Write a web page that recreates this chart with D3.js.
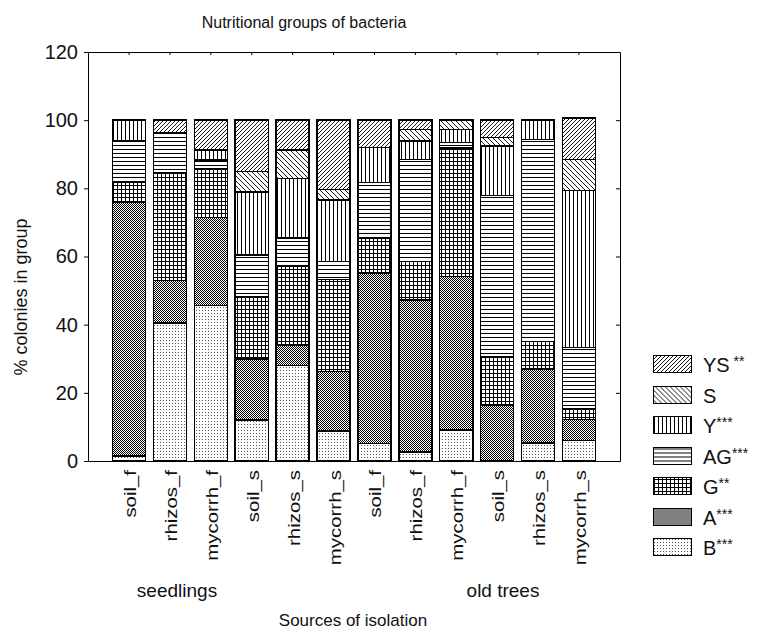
<!DOCTYPE html>
<html>
<head>
<meta charset="utf-8">
<script src="https://cdn.jsdelivr.net/npm/d3@7"></script>
<style>
  body { margin: 0; background: #fff; }
  svg { display: block; }
  text { font-family: "Liberation Sans", Arial, sans-serif; fill: #111; }
</style>
</head>
<body>
<svg id="chart" width="758" height="629"></svg>
<script>
// categories (two sites x three sources)
const categories = ['soil_f', 'rhizos_f', 'mycorrh_f', 'soil_s', 'rhizos_s', 'mycorrh_s',
                    'soil_f', 'rhizos_f', 'mycorrh_f', 'soil_s', 'rhizos_s', 'mycorrh_s'];
const groupLabels = ['seedlings', 'old trees'];

// % colonies of each nutritional group, stacked bottom -> top
const B  = [1.5, 40.5, 45.6, 12.0, 28.0,  8.8, 5.2,  2.7,  9.1,  0.0,  5.3,  6.0];
const A  = [74.3, 12.5, 25.8, 18.0,  6.0, 17.5, 50.0, 44.5, 45.1, 16.5, 21.7,  6.2];
const G  = [5.9, 31.5, 14.2, 18.3, 23.0, 26.9, 10.3, 11.4, 37.6, 14.2,  8.1,  3.0];
const AG = [12.3, 11.9,  2.7, 12.1,  8.5,  5.4, 16.2, 29.9,  1.7, 47.2, 59.3, 18.1];
const Y  = [6.0,  0.0,  3.0, 18.5, 17.4, 18.0, 10.3,  5.4,  3.7, 14.5,  5.6, 46.1];
const S  = [0.0,  0.0,  0.0,  6.0,  8.4,  3.1,  0.0,  3.3,  2.8,  2.5,  0.0,  9.1];
const YS = [0.0,  3.6,  8.7, 15.1,  8.7, 20.3,  8.0,  2.8,  0.0,  5.1,  0.0, 12.1];

const seriesKeys = ['B', 'A', 'G', 'AG', 'Y', 'S', 'YS'];
const legendNames = ['YS', 'S', 'Y', 'AG', 'G', 'A', 'B'];
const legendStars = [' **', '', '***', '***', '**', '***', '***'];
const yTicks = [0, 20, 40, 60, 80, 100, 120];

const values = { B, A, G, AG, Y, S, YS };
const rows = categories.map((c, i) => {
  const r = { idx: i };
  seriesKeys.forEach(k => { r[k] = values[k][i]; });
  return r;
});
const stacked = d3.stack().keys(seriesKeys)(rows);

const svg = d3.select('#chart');
const plot = { left: 88, right: 620, top: 52, bottom: 461 };

const x = d3.scaleBand()
  .domain(d3.range(categories.length))
  .range([plot.left, plot.right])
  .paddingInner(0.19)
  .paddingOuter(0.6);

const y = d3.scaleLinear().domain([0, 120]).range([plot.bottom, plot.top]);

// fill patterns, black on white like the printed figure
const defs = svg.append('defs');
function pat(id, w, h, draw) {
  const p = defs.append('pattern')
    .attr('id', 'p-' + id)
    .attr('patternUnits', 'userSpaceOnUse')
    .attr('width', w).attr('height', h);
  p.append('rect').attr('width', w).attr('height', h).attr('fill', '#fff');
  draw(p);
}
pat('YS', 4, 4, p => p.append('path').attr('d', 'M-1,1L1,-1M0,4L4,0M3,5L5,3')
  .attr('stroke', '#000').attr('stroke-width', 0.9));
pat('S', 5, 5, p => p.append('path').attr('d', 'M-1,4L1,6M0,0L5,5M4,-1L6,1')
  .attr('stroke', '#000').attr('stroke-width', 0.9));
pat('Y', 4, 4, p => p.append('rect').attr('x', 1).attr('width', 1).attr('height', 4).attr('fill', '#000'));
pat('AG', 4, 4, p => p.append('rect').attr('y', 1).attr('width', 4).attr('height', 1).attr('fill', '#000'));
pat('G', 4, 4, p => {
  p.append('rect').attr('y', 1).attr('width', 4).attr('height', 1).attr('fill', '#000');
  p.append('rect').attr('x', 1).attr('width', 1).attr('height', 4).attr('fill', '#000');
});
pat('A', 2, 2, p => {
  p.append('rect').attr('width', 1).attr('height', 1).attr('fill', '#000');
  p.append('rect').attr('x', 1).attr('y', 1).attr('width', 1).attr('height', 1).attr('fill', '#000');
});
pat('B', 3, 3, p => p.append('rect').attr('x', 1).attr('y', 1).attr('width', 1).attr('height', 1).attr('fill', '#555'));

// title
svg.append('text')
  .attr('x', 304).attr('y', 28)
  .attr('text-anchor', 'middle')
  .attr('font-size', 16)
  .text('Nutritional groups of bacteria');

// bars
svg.append('g')
  .selectAll('g')
  .data(stacked)
  .join('g')
  .attr('fill', d => `url(#p-${d.key})`)
  .selectAll('rect')
  .data(d => d.filter(s => s[1] - s[0] > 0))
  .join('rect')
  .attr('x', d => x(d.data.idx))
  .attr('y', d => y(d[1]))
  .attr('width', x.bandwidth())
  .attr('height', d => y(d[0]) - y(d[1]))
  .attr('stroke', '#000')
  .attr('stroke-width', 1.5)
  .attr('shape-rendering', 'crispEdges');

// axes / frame
const axStyle = g => {
  g.selectAll('path, line').attr('stroke', '#000');
  g.selectAll('text').attr('font-family', '"Liberation Sans", Arial, sans-serif').attr('fill', '#111');
};

svg.append('g')
  .attr('transform', `translate(${plot.left},0)`)
  .call(d3.axisLeft(y).tickValues(yTicks).tickSize(4).tickSizeOuter(0).tickPadding(6))
  .call(axStyle)
  .call(g => g.selectAll('text').attr('font-size', 20));

svg.append('g')
  .attr('transform', `translate(${plot.right},0)`)
  .call(d3.axisRight(y).tickValues(yTicks).tickSizeInner(-4).tickSizeOuter(0).tickFormat(''))
  .call(axStyle);

svg.append('g')
  .attr('transform', `translate(0,${plot.top})`)
  .call(d3.axisTop(x).tickSizeInner(-3).tickSizeOuter(0).tickFormat(''))
  .call(axStyle);

svg.append('g')
  .attr('transform', `translate(0,${plot.bottom})`)
  .call(d3.axisBottom(x).tickSize(0).tickSizeOuter(0).tickFormat(i => categories[i]))
  .call(axStyle)
  .call(g => g.selectAll('text')
    .attr('font-size', 17)
    .attr('text-anchor', 'end')
    .attr('transform', 'rotate(-90) scale(1.2,1)')
    .attr('x', -9 / 1.2)
    .attr('y', 7)
    .attr('dy', 0));

// group labels and axis titles
svg.append('text').attr('x', 177).attr('y', 597).attr('text-anchor', 'middle')
  .attr('font-size', 19)
  .text(groupLabels[0]);
svg.append('text').attr('x', 503).attr('y', 597).attr('text-anchor', 'middle')
  .attr('font-size', 19)
  .text(groupLabels[1]);

svg.append('text').attr('x', 353).attr('y', 626).attr('text-anchor', 'middle')
  .attr('font-size', 17)
  .text('Sources of isolation');

svg.append('text')
  .attr('transform', 'translate(27,297) rotate(-90)')
  .attr('text-anchor', 'middle')
  .attr('font-size', 18)
  .text('% colonies in group');

// legend
const legend = svg.append('g')
  .selectAll('g')
  .data(legendNames)
  .join('g')
  .attr('transform', (d, i) => `translate(653,${364 + i * 30.5})`);

legend.append('rect')
  .attr('y', -8.5).attr('width', 38).attr('height', 17)
  .attr('fill', d => `url(#p-${d})`)
  .attr('stroke', '#000').attr('stroke-width', 1)
  .attr('shape-rendering', 'crispEdges');

const lt = legend.append('text')
  .attr('x', 50).attr('y', 8)
  .attr('font-size', 20);
lt.append('tspan').text(d => d);
lt.append('tspan')
  .attr('font-size', 14)
  .attr('dy', -6)
  .text((d, i) => legendStars[i]);
</script>
</body>
</html>
